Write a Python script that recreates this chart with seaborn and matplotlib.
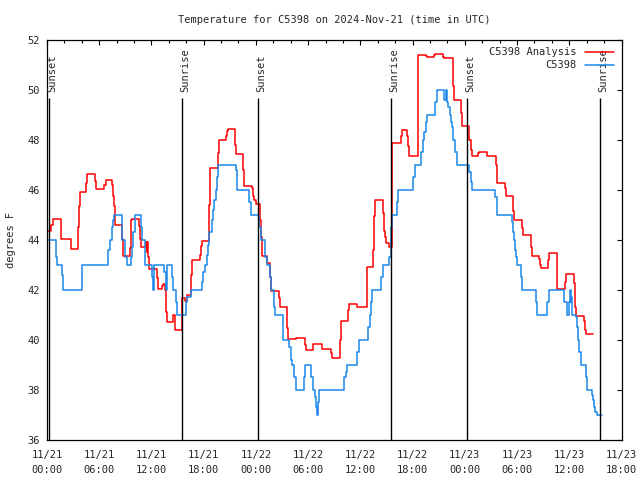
"""Temperature time series for C5398 with analysis overlay and sun events."""

import matplotlib

matplotlib.use("Agg")
import matplotlib.dates as mdates
import matplotlib.pyplot as plt
import pandas as pd
import seaborn as sns

START = pd.Timestamp("2024-11-21 00:00")
END = pd.Timestamp("2024-11-23 18:00")

# hours after 11/21 00:00 UTC where each step starts, and the value held
obs_hours = [
    0.0, 1.0, 1.15, 1.69, 1.87, 4.06, 7.04, 7.24, 7.43, 7.58, 7.70, 8.58, 8.96,
    9.19, 9.68, 9.80, 9.91, 10.11, 10.76, 10.88, 11.26, 12.03, 12.14, 12.21,
    12.29, 13.48, 13.67, 13.82, 14.39, 14.51, 14.78, 14.97, 15.93, 16.05, 16.51,
    17.84, 17.96, 18.15, 18.35, 18.46, 18.64, 18.92, 19.10, 19.22, 19.38, 19.56,
    19.68, 21.71, 21.86, 23.24, 23.40, 24.39, 24.55, 25.06, 25.31, 25.62, 25.70,
    26.08, 26.25, 27.08, 27.15, 27.83, 28.00, 28.11, 28.41, 28.57, 29.56, 29.67,
    30.33, 30.52, 30.79, 30.94, 31.05, 31.13, 31.25, 34.12, 34.35, 34.43, 35.65,
    35.88, 36.91, 37.11, 37.22, 37.37, 38.37, 38.56, 39.29, 39.48, 39.57, 39.67,
    40.24, 40.36, 42.08, 42.27, 42.93, 43.16, 43.34, 43.50, 43.62, 44.57, 44.84,
    45.64, 45.84, 45.98, 46.10, 46.30, 46.45, 46.55, 46.61, 46.87, 47.07, 48.51,
    48.67, 48.79, 51.46, 51.66, 51.73, 53.38, 53.57, 53.65, 53.76, 53.88, 53.96,
    54.45, 54.60, 56.14, 56.32, 57.47, 57.63, 59.43, 59.70, 60.00, 60.08, 60.16,
    60.23, 60.34, 60.77, 60.85, 60.96, 61.11, 61.31, 61.92, 62.00, 62.57, 62.76,
    62.87, 62.99, 63.15, 63.72,
]
obs_temps = [
    44.0, 43.3, 43.0, 42.6, 42.0, 43.0, 43.6, 44.0, 44.5, 44.8, 45.0, 44.0, 43.3,
    43.0, 43.3, 43.7, 44.3, 45.0, 44.5, 44.0, 43.0, 42.5, 42.3, 42.0,
    43.0, 42.7, 42.0, 43.0, 42.5, 42.0, 41.5, 41.0, 41.5, 41.7, 42.0,
    42.3, 42.7, 43.0, 43.4, 43.8, 44.3, 44.8, 45.2, 45.6, 46.0, 46.5,
    47.0, 46.8, 46.0, 45.5, 45.0, 44.5, 44.0, 43.3, 43.0, 42.5, 42.0,
    41.3, 41.0, 40.5, 40.0, 39.7, 39.2, 39.0, 38.5, 38.0, 38.5, 39.0,
    38.5, 38.0, 37.7, 37.3, 37.0, 37.5, 38.0, 38.5, 38.7, 39.0, 39.5,
    40.0, 40.5, 41.0, 41.5, 42.0, 42.5, 43.0, 43.3, 43.7, 44.5, 45.0,
    45.5, 46.0, 46.5, 47.0, 47.5, 48.0, 48.3, 48.7, 49.0, 49.5, 50.0,
    49.6, 50.0, 49.5, 49.3, 49.0, 48.7, 48.5, 48.0, 47.5, 47.0, 46.7,
    46.3, 46.0, 45.7, 45.3, 45.0, 44.7, 44.3, 44.0, 43.6, 43.3, 43.0,
    42.5, 42.0, 41.5, 41.0, 41.5, 42.0, 41.5, 41.0, 41.5, 42.0, 41.5,
    41.7, 41.0, 40.9, 40.5, 40.0, 39.5, 39.0, 38.5, 38.0, 37.8, 37.6,
    37.3, 37.1, 37.0, 37.0,
]

ana_hours = [
    0.0, 0.43, 0.72, 1.64, 2.72, 3.56, 3.68, 3.76, 4.51, 4.63, 5.51, 5.66, 6.55,
    6.74, 7.50, 7.58, 7.70, 7.78, 7.81, 8.65, 8.73, 9.53, 9.68, 9.80, 10.57,
    10.68, 10.76, 11.37, 11.45, 11.52, 11.64, 11.72, 12.60, 12.72, 13.25, 13.36,
    13.56, 13.64, 13.75, 14.51, 14.70, 15.54, 15.85, 16.05, 16.54, 16.69, 17.58,
    17.66, 17.77, 18.61, 18.72, 19.68, 19.76, 20.53, 20.64, 20.76, 21.60, 21.71,
    22.55, 22.67, 23.52, 23.63, 23.70, 23.81, 23.97, 24.47, 24.60, 24.70, 25.24,
    25.62, 25.70, 26.65, 26.77, 27.54, 27.61, 27.72, 28.60, 29.64, 29.72, 30.59,
    31.56, 32.63, 32.71, 33.66, 33.74, 34.61, 34.73, 35.65, 36.73, 37.42, 37.53,
    37.68, 38.56, 38.71, 38.83, 38.94, 39.32, 39.60, 40.63, 40.75, 41.39, 41.50,
    41.62, 42.58, 42.65, 43.54, 43.62, 44.46, 44.57, 45.53, 45.64, 46.61, 46.67,
    46.75, 47.56, 47.64, 48.51, 48.67, 48.79, 49.55, 49.66, 50.58, 51.55, 51.66,
    51.73, 52.61, 52.73, 53.57, 53.65, 54.53, 54.65, 55.57, 55.68, 56.52, 56.63,
    56.71, 57.55, 57.63, 58.55, 58.62, 59.51, 59.62, 60.58, 60.66, 60.74, 61.69,
    61.80, 61.88, 62.69,
]
ana_temps = [
    44.36, 44.6, 44.83, 44.03, 43.63, 44.5, 45.33, 45.9, 46.27, 46.63, 46.33,
    46.03, 46.2, 46.4, 46.2, 45.73, 45.33, 45.07, 44.6, 44.03, 43.36, 43.67,
    44.8, 44.83, 44.53, 44.03, 43.71, 43.93, 43.53, 43.9, 43.33, 42.83, 42.47,
    42.03, 42.16, 42.24, 42.0, 41.13, 40.73, 41.0, 40.4, 41.67, 41.55, 41.8,
    42.6, 43.2, 43.4, 43.76, 43.97, 45.4, 46.87, 47.47, 48.0, 48.13, 48.33,
    48.43, 47.8, 47.44, 46.8, 46.16, 46.07, 45.93, 45.73, 45.6, 45.44, 44.8,
    44.1, 43.36, 43.07, 42.53, 41.96, 41.67, 41.33, 40.93, 40.47, 40.03, 40.07,
    39.8, 39.6, 39.84, 39.65, 39.47, 39.27, 40.0, 40.75, 41.2, 41.43, 41.33,
    42.91, 43.6, 44.93, 45.6, 45.07, 44.33, 44.13, 43.87, 43.7, 47.87, 48.13,
    48.4, 48.13, 47.73, 47.36, 49.5, 51.4, 51.33, 51.31, 51.38, 51.43, 51.3,
    51.27, 50.67, 50.13, 49.6, 49.07, 48.53, 48.0, 47.6, 47.36, 47.45, 47.5,
    47.33, 47.0, 46.6, 46.27, 46.07, 45.76, 45.13, 44.77, 44.47, 44.2, 43.73,
    43.36, 43.23, 43.0, 42.87, 43.2, 43.47, 42.4, 42.03, 42.33, 42.64, 42.27,
    41.33, 40.97, 40.77, 40.4, 40.24, 40.24,
]

sun_hours = [0.23, 15.51, 24.24, 39.52, 48.25, 63.53]
sun_labels = ["Sunset", "Sunrise", "Sunset", "Sunrise", "Sunset", "Sunrise"]

ANA_COLOR = "#ff0000"
OBS_COLOR = "#1a86e8"


def to_frame(hours, temps):
    return pd.DataFrame(
        {"time": START + pd.to_timedelta(hours, unit="h"), "temp": temps}
    )


sns.set_theme(style="white")
plt.rcParams["font.family"] = ["DejaVu Sans Mono", "DejaVu Sans"]
plt.rcParams["font.size"] = 7

fig = plt.figure(figsize=(6.4, 4.8), dpi=100)
ax = fig.add_axes([0.0734, 0.0833, 0.8977, 0.8344])

sns.lineplot(
    data=to_frame(ana_hours, ana_temps), x="time", y="temp", ax=ax,
    color=ANA_COLOR, linewidth=1.1, drawstyle="steps-post", estimator=None,
    label="C5398 Analysis",
)
sns.lineplot(
    data=to_frame(obs_hours, obs_temps), x="time", y="temp", ax=ax,
    color=OBS_COLOR, linewidth=1.1, drawstyle="steps-post", estimator=None,
    label="C5398",
)

for h, lab in zip(sun_hours, sun_labels):
    t = START + pd.Timedelta(hours=h)
    ax.vlines(t, 36, 49.65, color="black", linewidth=1.0)
    ax.annotate(
        lab, xy=(t, 49.92), xytext=(2, 0), textcoords="offset points",
        rotation=90, ha="center", va="bottom", fontsize=7.5,
    )

ax.set_xlim(START, END)
ax.set_ylim(36, 52)
ax.set_yticks(range(36, 53, 2))
ax.xaxis.set_major_locator(mdates.HourLocator(byhour=[0, 6, 12, 18]))
ax.xaxis.set_minor_locator(mdates.HourLocator(byhour=range(0, 24, 2)))
ax.xaxis.set_major_formatter(mdates.DateFormatter("%m/%d\n%H:%M"))
for lbl in ax.get_xticklabels():
    lbl.set_linespacing(1.55)

ax.tick_params(which="both", direction="in", top=True, right=True,
               color="black", width=0.8)
ax.tick_params(axis="x", which="major", length=3.5, pad=7.5, labelsize=7.5)
ax.tick_params(axis="x", which="minor", length=2)
ax.tick_params(axis="y", which="major", length=3.5, pad=5, labelsize=7.5)
for spine in ax.spines.values():
    spine.set_color("black")
    spine.set_linewidth(0.9)

ax.set_xlabel("")
ax.set_ylabel("degrees F", fontsize=7.5, labelpad=8)
ax.set_title("Temperature for C5398 on 2024-Nov-21 (time in UTC)",
             fontsize=7.5, pad=12)

ax.legend(
    loc="upper right", frameon=False, markerfirst=False, fontsize=7.5,
    handlelength=2.8, handletextpad=0.8, labelspacing=0.3,
    borderaxespad=0.45, borderpad=0.3,
)

fig.savefig("out.png", dpi=100)
plt.close(fig)
